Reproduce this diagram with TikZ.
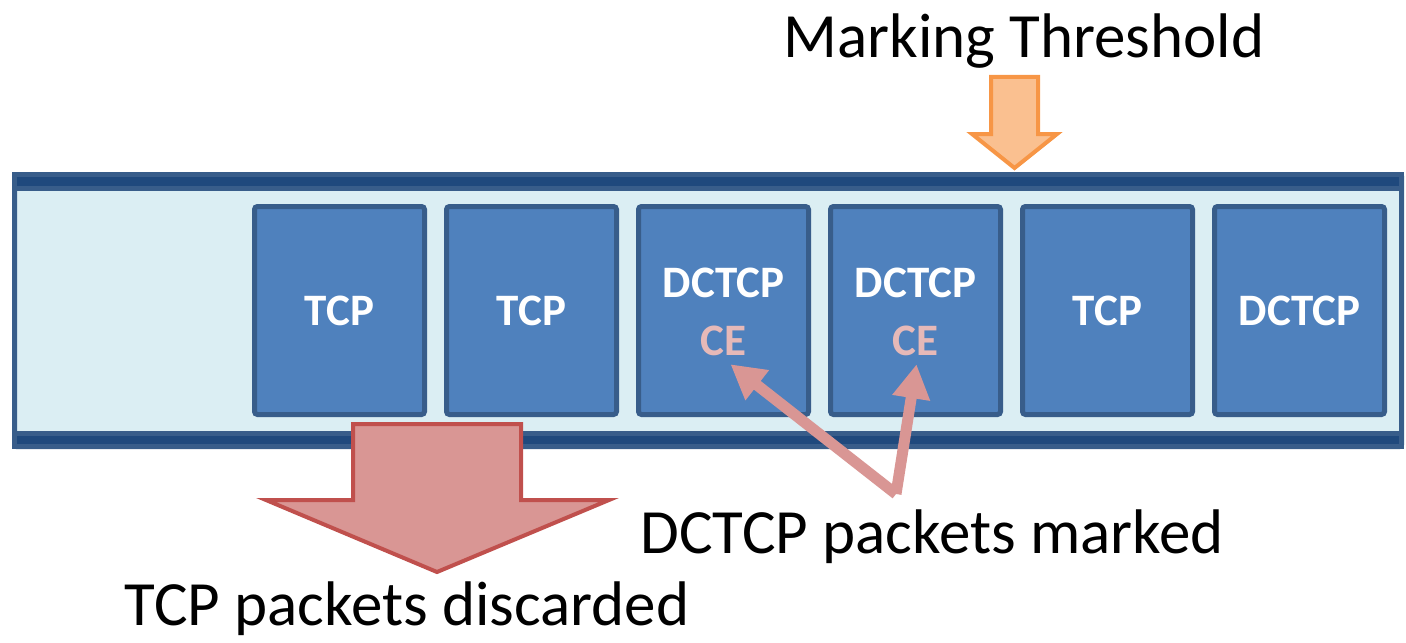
\documentclass[tikz,border=0pt]{standalone}
\usepackage{fontspec}
\setmainfont{Carlito}
\usetikzlibrary{arrows.meta,calc}
\definecolor{qfill}{HTML}{DBEEF3}
\definecolor{qedge}{HTML}{385D8A}
\definecolor{qbar}{HTML}{1F497D}
\definecolor{pfill}{HTML}{4F81BD}
\definecolor{cepink}{HTML}{E6B9B8}
\definecolor{arrpink}{HTML}{D99694}
\definecolor{ofill}{HTML}{FAC090}
\definecolor{oedge}{HTML}{F79646}
\definecolor{rfill}{HTML}{D99694}
\definecolor{redge}{HTML}{C0504D}
\tikzset{
  packet/.style={draw=qedge, fill=pfill, line width=2.5pt, rounded corners=1.5pt,
    minimum width=85pt, minimum height=104pt, inner sep=0pt,
    font=\fontsize{22.5}{27}\selectfont\bfseries, text=white},
  ptext/.style={font=\fontsize{22.5}{27}\selectfont\bfseries, text=white, inner sep=0pt},
  cetext/.style={font=\fontsize{22.5}{27}\selectfont\bfseries, text=cepink, inner sep=0pt},
  biglabel/.style={font=\fontsize{31.5}{36}\selectfont, text=black, inner sep=0pt, anchor=base},
  cearrow/.style={draw=arrpink, line width=5.5pt, -{Triangle[width=18pt,length=17pt]}},
}
\begin{document}
\begin{tikzpicture}[x=0.5pt,y=-0.5pt]
\useasboundingbox (0,0) rectangle (1406,642);
% queue
\draw[draw=qedge, fill=qfill, line width=2.5pt, rounded corners=1pt] (14.5,174.5) rectangle (1401.5,446.5);
\draw[draw=qedge, fill=qbar, line width=2.5pt] (14.5,174.5) rectangle (1401.5,188.5);
\draw[draw=qedge, fill=qbar, line width=2.5pt] (14.5,433.5) rectangle (1401.5,446.5);
% packets
\node[packet] (p1) at (339.5,310.5) {TCP};
\node[packet] (p2) at (531.5,310.5) {TCP};
\node[packet] (p3) at (723.5,310.5) {};
\node[packet] (p4) at (915.5,310.5) {};
\node[packet] (p5) at (1107.5,310.5) {TCP};
\node[packet] (p6) at (1299.5,310.5) {DCTCP};
\node[ptext] (d3) at (723.5,283) {DCTCP};
\node[ptext] (d4) at (915.5,283) {DCTCP};
\node[cetext] (ce3) at (723.5,341) {CE};
\node[cetext] (ce4) at (915.5,341) {CE};
% marking threshold arrow
\draw[draw=oedge, fill=ofill, line width=2pt, line join=miter]
  (991,77) -- (1038,77) -- (1038,134) -- (1057,134) -- (1014.5,168) -- (972,134) -- (991,134) -- cycle;
% discard arrow
\draw[draw=redge, fill=rfill, line width=2pt, line join=miter]
  (353,424) -- (521,424) -- (521,500) -- (609,500) -- (437,572) -- (266,500) -- (353,500) -- cycle;
% labels
\node[biglabel] (mt) at (1024,58) {Marking Threshold};
\node[biglabel] (dm) at (932,553) {DCTCP packets marked};
\node[biglabel] (td) at (407,625) {TCP packets discarded};
% CE arrows
\coordinate (src) at (896,494);
\coordinate (a3) at ($(ce3.south)+(7,8)$);
\coordinate (a4) at ($(ce4.south)+(1,8)$);
\draw[cearrow] (src) -- (a3);
\draw[cearrow] (src) -- (a4);
\end{tikzpicture}
\end{document}
